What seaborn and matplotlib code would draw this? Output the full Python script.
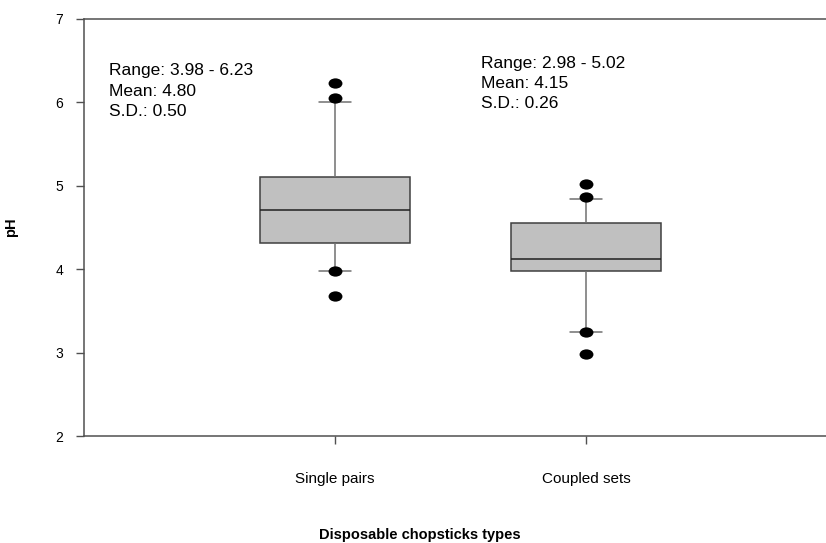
import numpy as np
import pandas as pd
import matplotlib
matplotlib.use("Agg")
import matplotlib.pyplot as plt
from matplotlib.path import Path
from matplotlib.transforms import Affine2D
import seaborn as sns

# valores (pH)
tipos = ["Single pairs", "Coupled sets"]
bigode_inf = [3.98, 3.25]
q1 = [4.32, 3.98]
mediana = [4.71, 4.12]
q3 = [5.10, 4.55]
bigode_sup = [6.00, 4.84]

outliers_single = [6.23, 6.05, 3.98, 3.68]
outliers_coupled = [5.02, 4.86, 3.25, 2.98]

resumo = [
    "Range: 3.98 - 6.23\nMean: 4.80\nS.D.: 0.50",
    "Range: 2.98 - 5.02\nMean: 4.15\nS.D.: 0.26",
]

# tabela longa: cinco números por tipo (whis cobre 0-100%)
linhas = []
for i, t in enumerate(tipos):
    for v in [bigode_inf[i], q1[i], mediana[i], q3[i], bigode_sup[i]]:
        linhas.append({"Tipo": t, "pH": v})
df = pd.DataFrame(linhas)

df_out = pd.DataFrame({
    "Tipo": [tipos[0]] * len(outliers_single) + [tipos[1]] * len(outliers_coupled),
    "pH": outliers_single + outliers_coupled,
})

sns.set_style("ticks")
plt.rcParams["font.family"] = ["Liberation Sans", "DejaVu Sans"]
plt.rcParams["text.color"] = "black"
plt.rcParams["axes.labelcolor"] = "black"
plt.rcParams["xtick.labelcolor"] = "black"
plt.rcParams["ytick.labelcolor"] = "black"

fig = plt.figure(figsize=(8.26, 5.43), dpi=100)
ax = fig.add_axes([84 / 826, 107 / 543, 753 / 826, 417 / 543])

sns.boxplot(data=df, x="Tipo", y="pH", order=tipos, whis=(0, 100), width=0.6,
            color="#c0c0c0", saturation=1, linecolor="#404040", linewidth=1.1,
            capwidths=0.126, ax=ax,
            whiskerprops={"color": "#707070"},
            capprops={"color": "#707070"},
            medianprops={"color": "#202020"})

# marcador elíptico para os outliers
elipse = Path.unit_circle().transformed(Affine2D().scale(1.35, 1.0))
sns.stripplot(data=df_out, x="Tipo", y="pH", order=tipos, jitter=False,
              color="black", marker=elipse, size=10, linewidth=0, ax=ax, zorder=5)

ax.set_xlim(-1, 2)
ax.set_ylim(2, 7)
ax.set_yticks([2, 3, 4, 5, 6, 7])
ax.set_xlabel("")
ax.set_ylabel("pH", fontsize=10.5, fontweight="bold")
ax.yaxis.set_label_coords(-0.088, 0.5)

for lado in ["left", "bottom", "top"]:
    ax.spines[lado].set_color("#505050")
    ax.spines[lado].set_linewidth(1.1)
ax.spines["right"].set_visible(False)
ax.tick_params(axis="y", length=6, width=1, color="#505050", labelsize=10, pad=9)
ax.tick_params(axis="x", length=6, width=1, color="#505050", labelsize=11, pad=20)

ax.text(-0.90, 6.47, resumo[0], fontsize=12.5, va="top", ha="left", linespacing=1.45)
ax.text(0.582, 6.56, resumo[1], fontsize=12.5, va="top", ha="left", linespacing=1.45)

fig.text(420 / 826, 1 - 535 / 543, "Disposable chopsticks types",
         ha="center", va="center", fontsize=10.5, fontweight="bold")

fig.savefig("out.png", dpi=100)
